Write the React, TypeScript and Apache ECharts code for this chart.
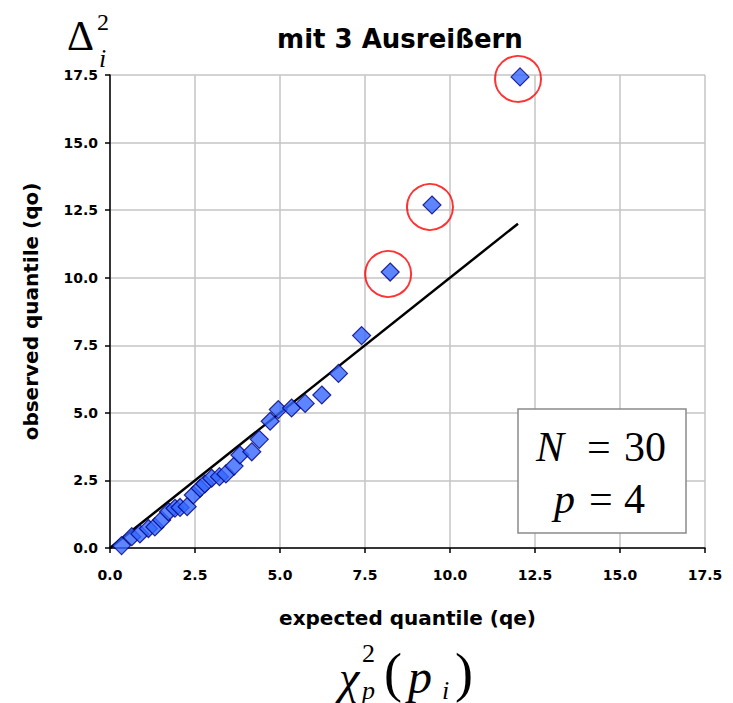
import React, { useEffect, useRef } from "react";
import * as echarts from "echarts";

// Expected chi-square quantiles (qe) and observed quantiles (qo)
const expectedQ = [
  0.34, 0.64, 0.88, 1.13, 1.32, 1.52, 1.72, 1.91, 2.06, 2.27,
  2.45, 2.65, 2.79, 2.99, 3.22, 3.41, 3.65, 3.82, 4.17, 4.39,
  4.71, 4.95, 5.34, 5.74, 6.23, 6.72, 7.40, 8.24, 9.47, 12.06,
];
const observedQ = [
  0.09, 0.42, 0.52, 0.72, 0.78, 1.04, 1.34, 1.47, 1.50, 1.53,
  1.96, 2.21, 2.37, 2.58, 2.64, 2.74, 3.03, 3.44, 3.56, 4.02,
  4.69, 5.12, 5.18, 5.35, 5.66, 6.46, 7.86, 10.21, 12.69, 17.43,
];
const outlierIdx = [27, 28, 29];
const refLineX = [0, 12];
const refLineY = [0, 12];
const axisTicks = ["0.0", "2.5", "5.0", "7.5", "10.0", "12.5", "15.0", "17.5"];

const W = 733;
const H = 703;

export default function App() {
  const ref = useRef<HTMLDivElement>(null);
  useEffect(() => {
    if (!ref.current) return;
    const chart = echarts.init(ref.current, null, { renderer: "svg" });
    const pts = expectedQ.map((x, i) => [x, observedQ[i]]);
    const outs = outlierIdx.map((i) => [expectedQ[i], observedQ[i]]);
    const line = refLineX.map((x, i) => [x, refLineY[i]]);
    const sans = "DejaVu Sans";
    const serif = "Liberation Serif";
    const axisCommon = {
      type: "value",
      min: 0,
      max: 17.5,
      interval: 2.5,
      axisLine: { show: true, onZero: false, lineStyle: { color: "#000", width: 1.5 } },
      axisTick: { show: true, inside: false, length: 5, lineStyle: { color: "#000", width: 1.5 } },
      splitLine: { show: true, lineStyle: { color: "#c4c4c4", width: 1.5 } },
      axisLabel: {
        fontFamily: sans,
        fontWeight: "bold",
        fontSize: 14,
        color: "#000",
        formatter: (v: number) => axisTicks[Math.round(v / 2.5)] ?? v.toFixed(1),
      },
      nameLocation: "middle",
      nameTextStyle: { fontFamily: sans, fontWeight: "bold", fontSize: 20, color: "#000" },
    };
    const txt = (
      text: string,
      x: number,
      y: number,
      size: number,
      opts: any = {}
    ) => ({
      type: "text",
      x,
      y,
      z: 10,
      style: {
        text,
        fontFamily: opts.family ?? serif,
        fontSize: size,
        fontStyle: opts.italic ? "italic" : "normal",
        fontWeight: "normal",
        fill: "#000",
        textAlign: "left",
        textVerticalAlign: "top",
      },
    });
    chart.setOption({
      animation: false,
      backgroundColor: "#fff",
      title: {
        text: "mit 3 Ausreißern",
        left: 395,
        top: 21,
        textAlign: "center",
        textStyle: { fontFamily: sans, fontWeight: "bold", fontSize: 26, color: "#000" },
      },
      grid: { left: 110, right: 28, top: 75, bottom: 155, containLabel: false },
      xAxis: {
        ...axisCommon,
        name: "expected quantile (qe)",
        nameGap: 60,
        axisLabel: { ...axisCommon.axisLabel, margin: 20 },
      },
      yAxis: {
        ...axisCommon,
        name: "observed quantile (qo)",
        nameGap: 69,
        axisLabel: { ...axisCommon.axisLabel, margin: 12 },
      },
      series: [
        {
          type: "line",
          data: line,
          showSymbol: false,
          symbol: "none",
          lineStyle: { color: "#000", width: 2.5 },
          z: 2,
        },
        {
          type: "scatter",
          data: pts,
          symbol: "diamond",
          symbolSize: 18,
          itemStyle: { color: "#3366ff", borderColor: "#000080", borderWidth: 1.2 },
          z: 3,
        },
        {
          type: "scatter",
          data: outs,
          symbol: "circle",
          symbolSize: 46,
          symbolOffset: [-2, 2],
          itemStyle: { color: "rgba(0,0,0,0)", borderColor: "#ff0000", borderWidth: 2 },
          z: 4,
        },
      ],
      graphic: [
        // Δ_i^2
        txt("Δ", 67, 15, 42),
        txt("2", 97, 10, 24),
        txt("i", 99, 45, 26, { italic: true }),
        // χ_p^2 (p_i)
        txt("χ", 339, 654, 46, { italic: true }),
        txt("2", 362, 640, 26),
        txt("p", 362, 677, 26, { italic: true }),
        txt("(", 384, 646, 54),
        txt("p", 408, 652, 48, { italic: true }),
        txt("i", 442, 677, 26, { italic: true }),
        txt(")", 455, 646, 54),
        // N / p box
        {
          type: "rect",
          z: 9,
          shape: { x: 518, y: 409, width: 168, height: 124 },
          style: { fill: "#fff", stroke: "#8a8a8a", lineWidth: 1.5 },
        },
        txt("N", 536, 426, 42, { italic: true }),
        txt("=", 587, 426, 42),
        txt("30", 624, 426, 42),
        txt("p", 554, 478, 42, { italic: true }),
        txt("=", 589, 478, 42),
        txt("4", 624, 478, 42),
      ],
    });
    return () => chart.dispose();
  }, []);
  return <div ref={ref} style={{ width: W, height: H, marginLeft: -8, marginTop: -8 }} />;
}
